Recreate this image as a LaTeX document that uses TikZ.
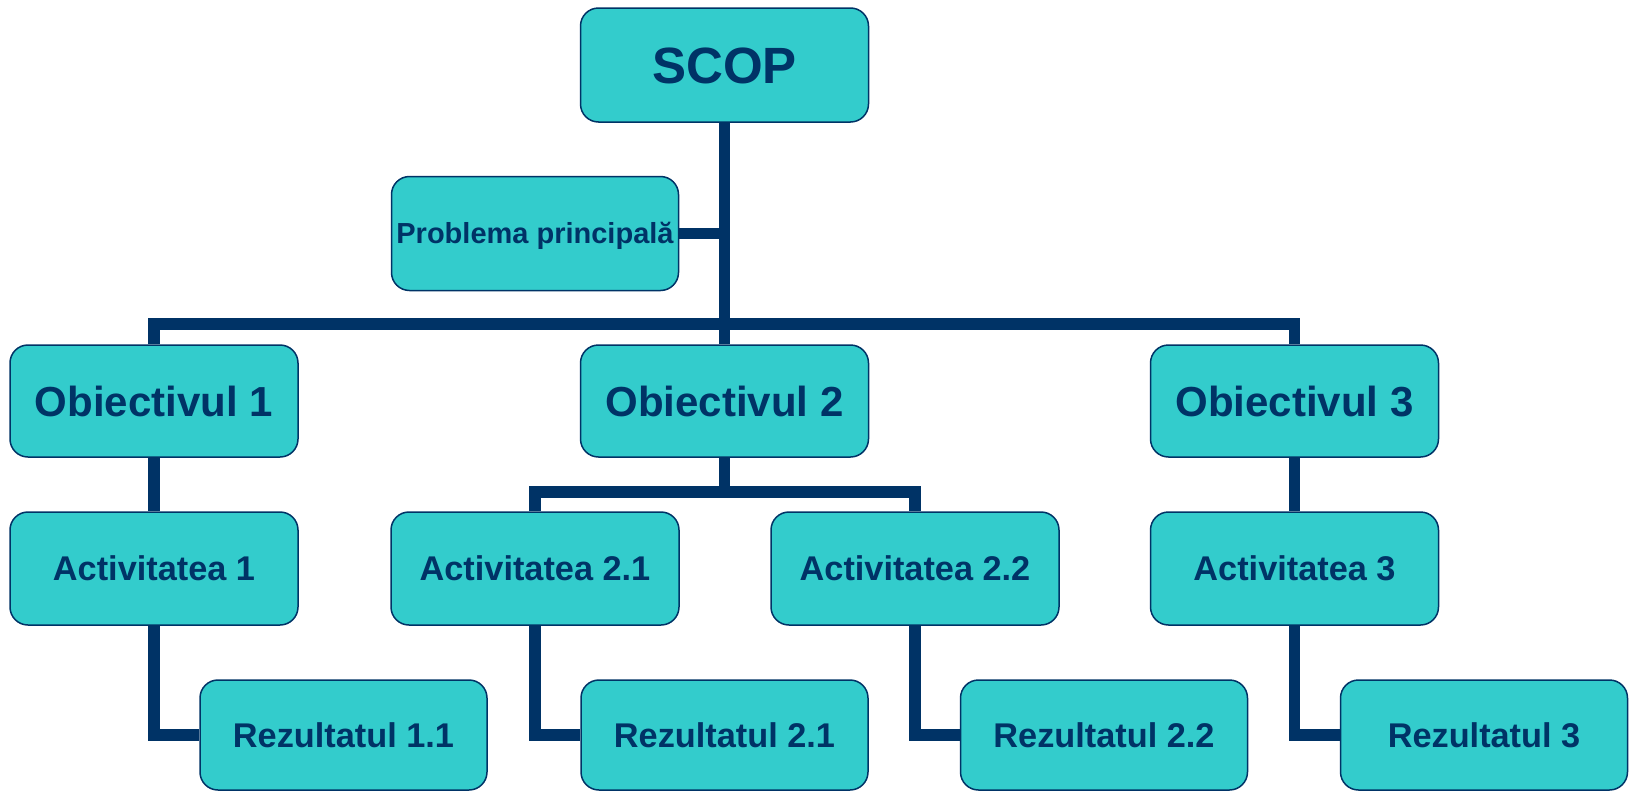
\documentclass[tikz,border=0pt]{standalone}
\usepackage{fontspec}
\setmainfont{Liberation Sans}
\definecolor{boxfill}{HTML}{33CCCC}
\definecolor{navy}{HTML}{003366}
\tikzset{
  box/.style={draw=navy, line width=1.5pt, fill=boxfill, rounded corners=18pt,
    text=navy, font=\bfseries, align=center, inner sep=0pt, text depth=0pt},
  big/.style={box, minimum width=288pt, minimum height=112pt},
  conn/.style={draw=navy, line width=11.5pt, line join=miter},
  fsScop/.style={font=\bfseries\fontsize{51}{60}\selectfont, text height=36.5pt},
  fsObj/.style={font=\bfseries\fontsize{42}{50}\selectfont, text height=30pt},
  fsAct/.style={font=\bfseries\fontsize{34.3}{40}\selectfont, text height=24.6pt},
  fsProb/.style={font=\bfseries\fontsize{29}{34}\selectfont, text height=20.8pt},
}
\begin{document}
\begin{tikzpicture}[x=1pt,y=-1pt]
\useasboundingbox (0,0) rectangle (1633,790);
% nodes
\node[big, fsScop, minimum height=114pt] (scop) at (724.5,65) {SCOP};
\node[big, fsProb, minimum width=287pt, minimum height=114pt] (prob) at (535,233.5) {Problema principală};
\node[big, fsObj] (ob1) at (154,401) {Obiectivul 1};
\node[big, fsObj] (ob2) at (724.5,401) {Obiectivul 2};
\node[big, fsObj] (ob3) at (1294.5,401) {Obiectivul 3};
\node[big, fsAct, minimum height=113pt] (act1) at (154,568.5) {Activitatea 1};
\node[big, fsAct, minimum height=113pt] (act21) at (535,568.5) {Activitatea 2.1};
\node[big, fsAct, minimum height=113pt] (act22) at (915,568.5) {Activitatea 2.2};
\node[big, fsAct, minimum height=113pt] (act3) at (1294.5,568.5) {Activitatea 3};
\node[big, fsAct, minimum width=287pt, minimum height=110pt] (rez1) at (343.5,735) {Rezultatul 1.1};
\node[big, fsAct, minimum width=287pt, minimum height=110pt] (rez21) at (724.5,735) {Rezultatul 2.1};
\node[big, fsAct, minimum width=287pt, minimum height=110pt] (rez22) at (1104,735) {Rezultatul 2.2};
\node[big, fsAct, minimum width=287pt, minimum height=110pt] (rez3) at (1484,735) {Rezultatul 3};
% connectors
\coordinate (b1) at (724.5,324);
\coordinate (b2) at (724.5,492);
\draw[conn] (scop.south) -- (ob2.north);
\draw[conn] (prob.east) -- (prob.east -| scop.south);
\draw[conn] (ob1.north) |- (b1) -| (ob3.north);
\draw[conn] (ob1.south) -- (act1.north);
\draw[conn] (ob3.south) -- (act3.north);
\draw[conn] (ob2.south) -- (b2);
\draw[conn] (act21.north) |- (b2) -| (act22.north);
\draw[conn] (act1.south) |- (rez1.west);
\draw[conn] (act21.south) |- (rez21.west);
\draw[conn] (act22.south) |- (rez22.west);
\draw[conn] (act3.south) |- (rez3.west);
\end{tikzpicture}
\end{document}
